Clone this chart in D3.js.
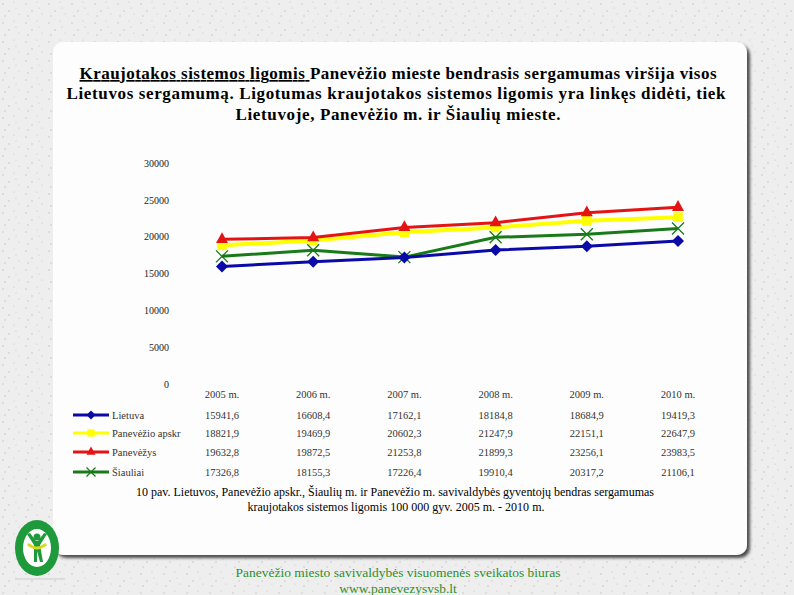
<!doctype html>
<html>
<head>
<meta charset="utf-8">
<script src="https://cdn.jsdelivr.net/npm/d3@7/dist/d3.min.js"></script>
<style>
  body { margin:0; background:#ededed; }
  svg text { font-family:"Liberation Serif","DejaVu Serif",serif; }
</style>
</head>
<body>
<svg id="chart" width="794" height="595"></svg>
<script>
// data
var years = ["2005 m.","2006 m.","2007 m.","2008 m.","2009 m.","2010 m."];
var seriesNames = ["Lietuva","Panevėžio apskr","Panevėžys","Šiauliai"];
var lietuva   = [15941.6, 16608.4, 17162.1, 18184.8, 18684.9, 19419.3];
var apskritis = [18821.9, 19469.9, 20602.3, 21247.9, 22151.1, 22647.9];
var panevezys = [19632.8, 19872.5, 21253.8, 21899.3, 23256.1, 23983.5];
var siauliai  = [17326.8, 18155.3, 17226.4, 19910.4, 20317.2, 21106.1];
// labels as printed in the table
var tableText = [
  ["15941,6","16608,4","17162,1","18184,8","18684,9","19419,3"],
  ["18821,9","19469,9","20602,3","21247,9","22151,1","22647,9"],
  ["19632,8","19872,5","21253,8","21899,3","23256,1","23983,5"],
  ["17326,8","18155,3","17226,4","19910,4","20317,2","21106,1"]
];
var yTicks = [0,5000,10000,15000,20000,25000,30000];

var colors = ["#0a0aa8","#ffff00","#e41414","#187a18"];
var shapes = ["diamond","square","triangle","cross"];
var allSeries = [lietuva, apskritis, panevezys, siauliai];
var serif = "'Liberation Serif','DejaVu Serif',serif";

var svg = d3.select("#chart").attr("font-family",serif);

// page background speckle pattern (fixed, decorative)
var defs = svg.append("defs");
var pat = defs.append("pattern").attr("id","speck").attr("width",23).attr("height",19)
  .attr("patternUnits","userSpaceOnUse");
pat.append("rect").attr("width",23).attr("height",19).attr("fill","#eeeeee");
[[3,4],[14,2],[9,11],[19,14],[5,16],[16,8]].forEach(function(p,i){
  pat.append("circle").attr("cx",p[0]).attr("cy",p[1]).attr("r",i%2?0.6:0.8).attr("fill","#c8c8c8");
});
svg.append("rect").attr("width",794).attr("height",595).attr("fill","url(#speck)");

var shadow = defs.append("filter").attr("id","shadow").attr("x","-5%").attr("y","-5%").attr("width","112%").attr("height","115%");
shadow.append("feDropShadow").attr("dx",3).attr("dy",3).attr("stdDeviation",1.6).attr("flood-color","#333").attr("flood-opacity",0.85);

// card
svg.append("rect").attr("x",53).attr("y",42).attr("width",694).attr("height",513)
  .attr("rx",10).attr("fill","#fdfdfd").attr("filter","url(#shadow)");

// title
var title = svg.append("g").attr("font-weight","bold").attr("font-size","17px").attr("fill","#000");
var t1 = title.append("text").attr("x",398).attr("y",79).attr("text-anchor","middle")
  .attr("textLength",637).attr("lengthAdjust","spacing");
t1.append("tspan").attr("text-decoration","underline").text("Kraujotakos sistemos ligomis ");
t1.append("tspan").text("Panevėžio mieste bendrasis sergamumas viršija visos");
title.append("text").attr("x",396).attr("y",99).attr("text-anchor","middle")
  .attr("textLength",659).attr("lengthAdjust","spacing")
  .text("Lietuvos sergamumą.  Ligotumas  kraujotakos sistemos ligomis yra linkęs didėti,  tiek");
title.append("text").attr("x",398).attr("y",120).attr("text-anchor","middle")
  .attr("textLength",325).attr("lengthAdjust","spacing")
  .text("Lietuvoje,  Panevėžio m. ir Šiaulių mieste.");

// scales
var x = d3.scaleBand().domain(years).range([176.4,723.6]);
var y = d3.scaleLinear().domain([0,30000]).range([384,163]);
var cx = function(d){ return x(d)+x.bandwidth()/2; };

// y axis labels
var yAxis = d3.axisLeft(y).tickValues(yTicks).tickSize(0).tickPadding(0).tickFormat(d3.format("d"));
var ya = svg.append("g").attr("transform","translate(169,0)").call(yAxis)
  .attr("font-family",serif).attr("font-size","10px");
ya.select(".domain").remove();
ya.selectAll("text").attr("fill","#222");

// marker helper
function marker(g, shape, color, px, py, s) {
  if (shape==="diamond") {
    g.append("path").attr("d","M"+px+","+(py-s)+"L"+(px+s)+","+py+"L"+px+","+(py+s)+"L"+(px-s)+","+py+"Z").attr("fill",color);
  } else if (shape==="square") {
    g.append("rect").attr("x",px-s*0.8).attr("y",py-s*0.8).attr("width",s*1.6).attr("height",s*1.6).attr("fill",color);
  } else if (shape==="triangle") {
    g.append("path").attr("d","M"+px+","+(py-s*1.2)+"L"+(px+s)+","+(py+s*0.6)+"L"+(px-s)+","+(py+s*0.6)+"Z").attr("fill",color);
  } else {
    g.append("path").attr("d","M"+(px-s)+","+(py-s)+"L"+(px+s)+","+(py+s)+"M"+(px+s)+","+(py-s)+"L"+(px-s)+","+(py+s))
      .attr("stroke",color).attr("stroke-width",1.3).attr("fill","none");
  }
}

// lines (yellow drawn first, red over it as in the original)
var order = [1,2,3,0];
var line = d3.line().x(function(d,i){ return cx(years[i]); }).y(function(d){ return y(d); });
order.forEach(function(k){
  var g = svg.append("g");
  g.append("path").datum(allSeries[k]).attr("d",line).attr("fill","none")
    .attr("stroke",colors[k]).attr("stroke-width",k===1?4:3);
  allSeries[k].forEach(function(v,i){
    marker(g, shapes[k], colors[k], cx(years[i]), y(v), 6);
  });
});

// data table
var table = svg.append("g").attr("font-size","10.5px").attr("fill","#333");
years.forEach(function(yr){
  table.append("text").attr("x",cx(yr)).attr("y",398).attr("text-anchor","middle").text(yr);
});
var rowY = [419,437,456,476];
seriesNames.forEach(function(name,k){
  var g = table.append("g");
  g.append("line").attr("x1",73).attr("x2",109).attr("y1",rowY[k]-4).attr("y2",rowY[k]-4)
    .attr("stroke",colors[k]).attr("stroke-width",3);
  marker(g, shapes[k], colors[k], 91, rowY[k]-4, 4.5);
  g.append("text").attr("x",112).attr("y",rowY[k]).text(name);
  tableText[k].forEach(function(t,i){
    g.append("text").attr("x",cx(years[i])).attr("y",rowY[k]).attr("text-anchor","middle").text(t);
  });
});

// caption
var cap = svg.append("g").attr("font-size","12px").attr("fill","#000").attr("text-anchor","middle");
cap.append("text").attr("x",395).attr("y",496).attr("textLength",518).attr("lengthAdjust","spacing")
  .text("10 pav. Lietuvos, Panevėžio apskr., Šiaulių m. ir Panevėžio m. savivaldybės gyventojų bendras sergamumas");
cap.append("text").attr("x",396).attr("y",511).attr("textLength",297).attr("lengthAdjust","spacing")
  .text("kraujotakos sistemos ligomis 100 000 gyv. 2005 m. - 2010 m.");

// footer
var foot = svg.append("g").attr("font-size","13.5px").attr("fill","#2f8f2f").attr("text-anchor","middle");
foot.append("text").attr("x",398).attr("y",577).text("Panevėžio miesto savivaldybės visuomenės sveikatos biuras");
foot.append("text").attr("x",398).attr("y",593).text("www.panevezysvsb.lt");

// logo
var logo = svg.append("g").attr("transform","translate(37,548)");
logo.append("ellipse").attr("rx",22).attr("ry",28).attr("fill","#1e9a3a");
logo.append("ellipse").attr("rx",14).attr("ry",19).attr("fill","#fff");
logo.append("path").attr("d","M-10,-14 L-3,-3 L-3,14 L0,14 L0,3 L3,14 L6,14 L3,-3 L10,-14 L7,-15 L1,-7 L-1,-7 L-7,-15Z").attr("fill","#1e9a3a");
logo.append("circle").attr("cx",0).attr("cy",-11).attr("r",3.5).attr("fill","#1e9a3a");
logo.append("path").attr("d","M-9,-4 Q0,4 9,-4").attr("stroke","#d8d820").attr("stroke-width",3).attr("fill","none");
logo.append("line").attr("x1",-22).attr("x2",28).attr("y1",31).attr("y2",31).attr("stroke","#ccc");
</script>
</body>
</html>
